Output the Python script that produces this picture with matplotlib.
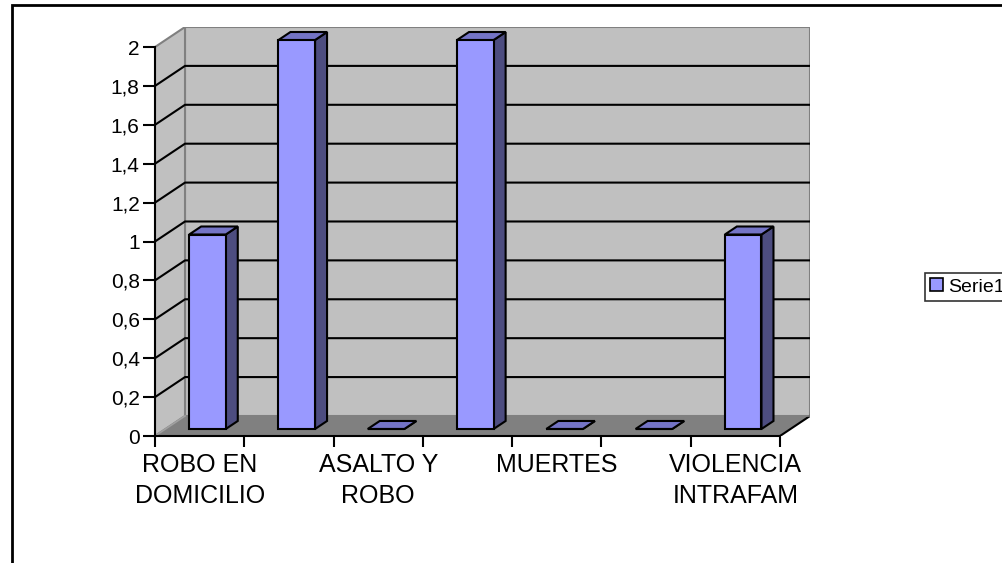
import numpy as np
import matplotlib
matplotlib.use('Agg')
import matplotlib.pyplot as plt
from matplotlib.patches import Polygon, Rectangle, Patch

plt.rcParams['font.family'] = ['Liberation Sans', 'DejaVu Sans']

# Data
categories = ['ROBO EN\nDOMICILIO', '', 'ASALTO Y\nROBO', '', 'MUERTES', '', 'VIOLENCIA\nINTRAFAM']
values = [1, 2, 0, 2, 0, 0, 1]
series_name = 'Serie1'
y_ticks = [0, 0.2, 0.4, 0.6, 0.8, 1.0, 1.2, 1.4, 1.6, 1.8, 2.0]
y_tick_labels = ['0', '0,2', '0,4', '0,6', '0,8', '1', '1,2', '1,4', '1,6', '1,8', '2']

# Pseudo-3D settings (in data units)
DX = 0.336      # depth offset along x, in categories
DY = 0.103      # depth offset along y, in value units
BAR_W = 0.41
BAR_C = 0.47    # bar centre inside its category slot
D_FRONT, D_BACK = 0.35, 0.75

wall_c = '#c0c0c0'
floor_c = '#808080'
edge_c = '#808080'
bar_front = '#9999ff'
bar_top = '#7474c6'
bar_side = '#4d4d80'

W, H = 1003, 563
fig = plt.figure(figsize=(W / 100, H / 100), dpi=100)

n = len(values)
ymax = max(y_ticks)
x0, x1, yb, yt = 155, 810, 436, 27
ax = fig.add_axes([x0 / W, 1 - yb / H, (x1 - x0) / W, (yb - yt) / H])
ax.set_xlim(0, n + DX)
ax.set_ylim(0, ymax + DY)


def proj(x, y, d):
    return (x + d * DX, y + d * DY)


# walls and floor
back = [proj(0, 0, 1), proj(n, 0, 1), proj(n, ymax, 1), proj(0, ymax, 1)]
left = [proj(0, 0, 0), proj(0, 0, 1), proj(0, ymax, 1), proj(0, ymax, 0)]
floor = [proj(0, 0, 0), proj(n, 0, 0), proj(n, 0, 1), proj(0, 0, 1)]
ax.add_patch(Polygon(back, closed=True, fc=wall_c, ec=edge_c, lw=1.5, zorder=0.5))
ax.add_patch(Polygon(left, closed=True, fc=wall_c, ec=edge_c, lw=1.5, zorder=0.5))
ax.add_patch(Polygon(floor, closed=True, fc=floor_c, ec='none', zorder=0.6))
ax.plot(*zip(proj(n, 0, 0), proj(n, 0, 1)), color='black', lw=1.5, zorder=0.7)
ax.plot(*zip(proj(0, 0, 1), proj(n, 0, 1)), color=edge_c, lw=1.2, zorder=0.7)
ax.plot(*zip(proj(0, 0, 0), proj(0, 0, 1)), color='#a0a0a0', lw=1.2, zorder=0.7)

# gridlines on the left and back walls
for yv in y_ticks[1:-1]:
    pts = [proj(0, yv, 0), proj(0, yv, 1), proj(n, yv, 1)]
    ax.plot(*zip(*pts), color='black', lw=1.5, zorder=0.8)

# bars
for i, v in enumerate(values):
    xl = i + BAR_C - BAR_W / 2
    xr = i + BAR_C + BAR_W / 2
    front = [proj(xl, 0, D_FRONT), proj(xr, 0, D_FRONT), proj(xr, v, D_FRONT), proj(xl, v, D_FRONT)]
    side = [proj(xr, 0, D_FRONT), proj(xr, 0, D_BACK), proj(xr, v, D_BACK), proj(xr, v, D_FRONT)]
    top = [proj(xl, v, D_FRONT), proj(xr, v, D_FRONT), proj(xr, v, D_BACK), proj(xl, v, D_BACK)]
    ax.add_patch(Polygon(side, closed=True, fc=bar_side, ec='black', lw=1.5, zorder=2))
    ax.add_patch(Polygon(top, closed=True, fc=bar_top, ec='black', lw=1.5, zorder=2))
    ax.add_patch(Polygon(front, closed=True, fc=bar_front, ec='black', lw=1.5, zorder=2))

# axes
for s in ['top', 'right']:
    ax.spines[s].set_visible(False)
ax.spines['left'].set_bounds(0, ymax)
ax.spines['bottom'].set_bounds(0, n)
for s in ['left', 'bottom']:
    ax.spines[s].set_linewidth(1.5)
    ax.spines[s].set_zorder(3)
ax.set_yticks(y_ticks)
ax.set_yticklabels(y_tick_labels, fontsize=15)
ax.set_xticks(np.arange(n + 1))
ax.set_xticklabels([])
ax.tick_params(axis='y', direction='out', length=9, width=1.5, pad=2)
ax.tick_params(axis='x', direction='out', length=8, width=1.5)
ax.patch.set_visible(False)

for i, lab in enumerate(categories):
    if lab:
        ax.annotate(lab, (i + 0.5, 0), xytext=(0, -12), textcoords='offset points',
                    ha='center', va='top', fontsize=18, linespacing=1.38,
                    multialignment='center')

leg = fig.legend(handles=[Patch(fc=bar_front, ec='black', lw=1.2)], labels=[series_name],
                 loc='center left', bbox_to_anchor=(925 / W, 1 - 287 / H),
                 fontsize=14, frameon=True, fancybox=False, handlelength=0.65,
                 handleheight=0.65, handletextpad=0.3, borderpad=0.25, borderaxespad=0)
leg.get_frame().set_edgecolor('black')
leg.get_frame().set_linewidth(1.2)

# outer chart border
fig.add_artist(Rectangle((12 / W, -0.1), 1.2, 1.1 - 5 / H, transform=fig.transFigure,
                         fill=False, ec='black', lw=2))

fig.savefig('out.png', dpi=100)
